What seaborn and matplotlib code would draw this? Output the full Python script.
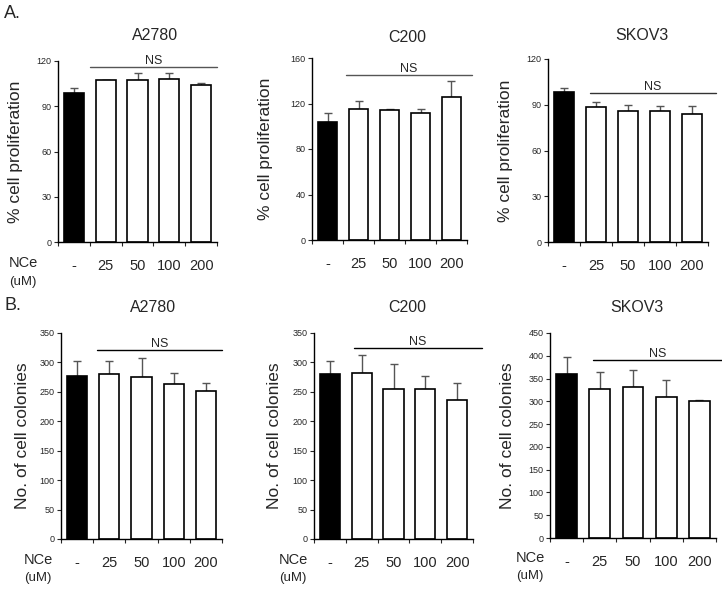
import numpy as np
import pandas as pd
import matplotlib
matplotlib.use('Agg')
import matplotlib.pyplot as plt
import seaborn as sns

sns.set_style('ticks')
plt.rcParams['font.family'] = ['Liberation Sans', 'DejaVu Sans']

doses = ['-', '25', '50', '100', '200']

# A. cell proliferation (%)
prolif_a2780 = [99, 107.4, 107.6, 108, 103.8]
prolif_a2780_err = [3.3, 0.3, 4.2, 3.8, 1.8]
prolif_c200 = [103.6, 115.4, 113.9, 111.9, 126]
prolif_c200_err = [8.4, 6.4, 1.0, 3.5, 13.5]
prolif_skov3 = [98.5, 88.6, 86.2, 86.2, 83.8]
prolif_skov3_err = [2.4, 3.1, 3.8, 2.7, 5.5]

# B. number of colonies
col_a2780 = [277, 279.5, 276, 263, 251]
col_a2780_err = [25, 22.5, 32, 19, 14]
col_c200 = [280, 282, 255, 255, 237]
col_c200_err = [23, 30, 43, 22, 28]
col_skov3 = [360, 327.5, 332, 309, 301]
col_skov3_err = [38, 36, 36, 37, 3]

panels = [
    # title, values, errors, yticks, ylabel, NS y, NS x range
    ('A2780', prolif_a2780, prolif_a2780_err, [0, 30, 60, 90, 120], '% cell proliferation', 116, (0.5, 4.5)),
    ('C200', prolif_c200, prolif_c200_err, [0, 40, 80, 120, 160], '% cell proliferation', 145, (0.6, 4.66)),
    ('SKOV3', prolif_skov3, prolif_skov3_err, [0, 30, 60, 90, 120], '% cell proliferation', 98, (0.81, 4.75)),
    ('A2780', col_a2780, col_a2780_err, list(range(0, 351, 50)), 'No. of cell colonies', 321, (0.63, 4.5)),
    ('C200', col_c200, col_c200_err, list(range(0, 351, 50)), 'No. of cell colonies', 325, (0.75, 4.78)),
    ('SKOV3', col_skov3, col_skov3_err, list(range(0, 451, 50)), 'No. of cell colonies', 390, (0.8, 4.7)),
]

# axes rectangles in pixels: left, right, top, bottom (image coords)
boxes = [
    (58, 217, 61, 242), (312, 467, 58, 240), (548, 708, 59, 242),
    (61, 222, 333, 539), (314, 473, 333, 539), (550, 716, 333, 538),
]
title_pos = [(155, 36), (407, 37), (642, 36), (153, 307), (407, 307), (637, 307)]
ylab_x = [-0.22, -0.25, -0.22, -0.19, -0.2, -0.21]
ns_color = ['#555555', '#555555', '#333333', 'black', 'black', 'black']

W, H = 722, 589
fig = plt.figure(figsize=(W / 100, H / 100), dpi=100)

for i, (title, vals, errs, yt, ylab, ns_y, ns_x) in enumerate(panels):
    l, r, t, b = boxes[i]
    ax = fig.add_axes([l / W, 1 - b / H, (r - l) / W, (b - t) / H])
    df = pd.DataFrame({'dose': doses, 'value': vals})
    sns.barplot(data=df, x='dose', y='value', hue='dose', palette=['black'] + ['white'] * 4,
                edgecolor='black', linewidth=1.2, width=0.63, legend=False, ax=ax, zorder=2)
    ax.errorbar(range(len(doses)), vals, yerr=[np.zeros(len(errs)), errs], fmt='none',
                ecolor='#555555', elinewidth=1, capsize=3, capthick=1, zorder=1)
    ax.set_xlim(-0.5, 4.5)
    ax.set_ylim(yt[0], yt[-1])
    ax.set_yticks(yt)
    ax.tick_params(axis='y', labelsize=6.5, length=3, width=0.8, pad=1.5)
    ax.set_xticks(np.arange(-0.5, 5, 1), minor=True)
    ax.set_xticks(range(len(doses)))
    ax.set_xticklabels(doses, fontsize=10.5)
    ax.tick_params(axis='x', which='major', length=0, pad=12)
    ax.tick_params(axis='x', which='minor', length=3, width=0.8)
    sns.despine(ax=ax)
    for s in ['left', 'bottom']:
        ax.spines[s].set_linewidth(1)
        ax.spines[s].set_color('black')
    ax.set_xlabel('')
    ax.set_ylabel(ylab, fontsize=12.5)
    ax.yaxis.set_label_coords(ylab_x[i], 0.5)

    ax.plot(ns_x, [ns_y, ns_y], color=ns_color[i], lw=1, clip_on=False)
    ax.text(np.mean(ns_x), ns_y, 'NS', ha='center', va='bottom', fontsize=9, clip_on=False)

    tx, ty = title_pos[i]
    fig.text(tx / W, 1 - ty / H, title, ha='center', va='center', fontsize=11.5)

# dose labels
fig.text(23 / W, 1 - 263 / H, 'NCe', ha='center', va='center', fontsize=10.5)
fig.text(23 / W, 1 - 282 / H, '(uM)', ha='center', va='center', fontsize=9.5)
for x, y in [(38, 560), (293, 560), (530, 558)]:
    fig.text(x / W, 1 - y / H, 'NCe', ha='center', va='center', fontsize=10.5)
    fig.text(x / W, 1 - (y + 18) / H, '(uM)', ha='center', va='center', fontsize=9.5)

fig.text(4 / W, 1 - 13 / H, 'A.', ha='left', va='center', fontsize=13)
fig.text(4 / W, 1 - 306 / H, 'B.', ha='left', va='center', fontsize=13)

fig.savefig('out.png', dpi=100)
